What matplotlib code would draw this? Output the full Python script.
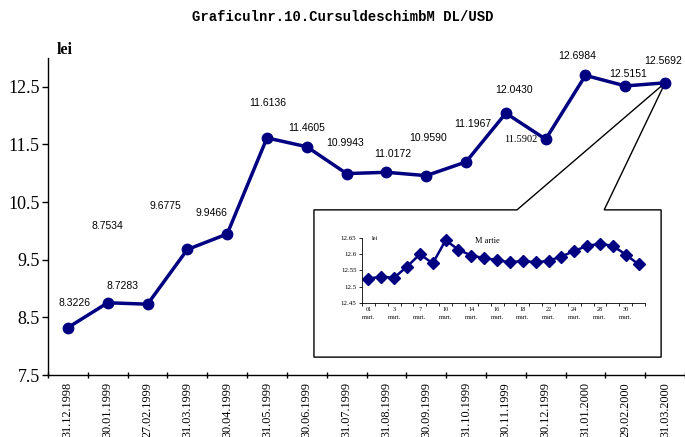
import matplotlib.pyplot as plt
from matplotlib.patches import Polygon

# main series: end-of-month MDL/USD rate
dates = ["31.12.1998", "30.01.1999", "27.02.1999", "31.03.1999", "30.04.1999",
         "31.05.1999", "30.06.1999", "31.07.1999", "31.08.1999", "30.09.1999",
         "31.10.1999", "30.11.1999", "30.12.1999", "31.01.2000", "29.02.2000",
         "31.03.2000"]
rates = [8.3226, 8.7534, 8.7283, 9.6775, 9.9466, 11.6136, 11.4605, 10.9943,
         11.0172, 10.9590, 11.1967, 12.0430, 11.5902, 12.6984, 12.5151, 12.5692]

# inset: daily rate in March 2000
march_vals = [12.525, 12.531, 12.528, 12.562, 12.600, 12.572, 12.643, 12.614,
              12.596, 12.588, 12.582, 12.575, 12.580, 12.575, 12.580, 12.593,
              12.610, 12.626, 12.632, 12.626, 12.599, 12.569]
march_labels = ["01", "3", "7", "10", "14", "16", "18", "22", "24", "28", "30"]

# label offsets in pixels (layout only)
label_off = [(7, 25), (0, 77), (-25, 18), (-22, 43), (-16, 21), (1, 35), (0, 19),
             (-2, 31), (6, 18), (2, 38), (7, 38), (8, 23), (-25, 0), (-8, 19),
             (3, 12), (-2, 22)]

navy = "#000080"
serif = "Liberation Serif"
sans = "Liberation Sans"

fig = plt.figure(figsize=(6.85, 4.37), dpi=100)
ax = fig.add_axes([48 / 685, 62 / 437, 637 / 685, 317 / 437])

xs = list(range(len(rates)))
ax.plot(xs, rates, color=navy, lw=2.5, marker="o", ms=7.5, zorder=5, clip_on=False)

for i, (v, off) in enumerate(zip(rates, label_off)):
    fam = serif if i == 12 else sans
    ax.annotate(f"{v:.4f}", (i, v), xytext=off, textcoords="offset pixels",
                ha="center", va="center", fontsize=7.5, family=fam)

ax.set_xlim(-0.5, len(rates) - 0.5)
ax.set_ylim(7.5, 13.0)
ax.set_yticks([7.5, 8.5, 9.5, 10.5, 11.5, 12.5])
ax.set_yticklabels(["7.5", "8.5", "9.5", "10.5", "11.5", "12.5"], family=serif, fontsize=13)
ax.set_xticks(xs)
ax.set_xticklabels(dates, rotation=90, family=serif, fontsize=8.8)
ax.set_xticks([x - 0.5 for x in xs] + [len(rates) - 0.5], minor=True)
ax.tick_params(axis="x", which="major", length=0, pad=5)
ax.tick_params(axis="x", which="minor", length=5, direction="inout", width=1)
ax.tick_params(axis="y", length=4, direction="out", width=1, pad=2)
for s in ["top", "right"]:
    ax.spines[s].set_visible(False)
for s in ["left", "bottom"]:
    ax.spines[s].set_linewidth(1)

# callout box pointing to the last point
x0, x1 = 6.18, 14.90
yt, yb = 10.365, 7.81
g0, g1 = 11.28, 13.47
tip = (xs[-1], rates[-1])
callout = Polygon([(g0, yt), tip, (g1, yt), (x1, yt), (x1, yb), (x0, yb), (x0, yt)],
                  closed=True, facecolor="white", edgecolor="black", lw=1,
                  zorder=3, clip_on=False)
ax.add_patch(callout)

fig.text(343 / 685, 1 - 17 / 437, "Graficulnr.10.CursuldeschimbM DL/USD",
         ha="center", va="center", family="Liberation Mono", weight="bold", fontsize=10)
fig.text(65 / 685, 1 - 50 / 437, "lei", ha="center", va="center",
         family=serif, weight="bold", fontsize=11.5)

# inset
ins = fig.add_axes([362 / 685, (437 - 303) / 437, 283 / 685, 65 / 437])
ins.patch.set_alpha(0)
mx = list(range(len(march_vals)))
ins.plot(mx, march_vals, color=navy, lw=1.8, marker="D", ms=6, clip_on=False)
ins.set_xlim(-0.5, len(march_vals) - 0.5)
ins.set_ylim(12.45, 12.65)
ins.set_yticks([12.45, 12.5, 12.55, 12.6, 12.65])
ins.set_yticklabels(["12.45", "12.5", "12.55", "12.6", "12.65"], family=serif, fontsize=5)
ins.set_xticks(mx[::2])
ins.set_xticklabels([f"{l}\nmart." for l in march_labels], family=serif, fontsize=4.5,
                    linespacing=1.6)
ins.set_xticks([x - 0.5 for x in mx] + [len(march_vals) - 0.5], minor=True)
ins.tick_params(axis="x", which="major", length=0, pad=3)
ins.tick_params(axis="x", which="minor", length=2, direction="out", width=0.6)
ins.tick_params(axis="y", length=2, direction="out", width=0.6, pad=2)
for s in ["top", "right"]:
    ins.spines[s].set_visible(False)
for s in ["left", "bottom"]:
    ins.spines[s].set_linewidth(0.6)
fig.text(375 / 685, 1 - 239 / 437, "lei", ha="center", va="center", family=serif, fontsize=4.5)
fig.text(487 / 685, 1 - 241 / 437, "M artie", ha="center", va="center", family=serif, fontsize=6)

fig.savefig("out.png", dpi=100)
